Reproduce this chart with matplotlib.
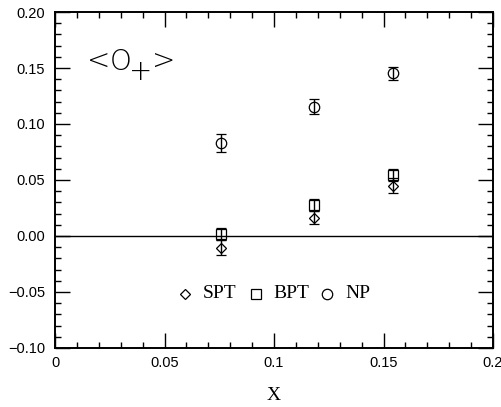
import numpy as np
import matplotlib.pyplot as plt
from matplotlib.ticker import MultipleLocator

# data
x_vals = [0.0758, 0.1183, 0.1545]

spt = [-0.0104, 0.0163, 0.0450]
spt_err = [0.0065, 0.0060, 0.0065]

bpt = [0.0020, 0.0277, 0.0545]
bpt_err = [0.0055, 0.0050, 0.0050]

np_vals = [0.0828, 0.1155, 0.1453]
np_err = [0.0080, 0.0070, 0.0060]

xticks = [0, 0.05, 0.1, 0.15, 0.2]
xtick_labels = ['0', '0.05', '0.1', '0.15', '0.2']
yticks = [-0.10, -0.05, 0.00, 0.05, 0.10, 0.15, 0.20]
ytick_labels = ['\u22120.10', '\u22120.05', '0.00', '0.05', '0.10', '0.15', '0.20']

plt.rcParams['font.family'] = 'Liberation Sans'

W, H = 502, 407
fig = plt.figure(figsize=(W / 100, H / 100), dpi=100)
ax = fig.add_axes([0.1096, 0.145, 0.8725, 0.8255])

ax.axhline(0, color='k', lw=1.0)

style = dict(ls='none', color='k', mfc='none', mec='k', ecolor='k',
             elinewidth=1.0, capsize=3.5, capthick=1.0, mew=0.9)
ax.errorbar(x_vals, spt, yerr=spt_err, marker='D', ms=5.5, **style)
ax.errorbar(x_vals, bpt, yerr=bpt_err, marker='s', ms=7, **style)
ax.errorbar(x_vals, np_vals, yerr=np_err, marker='o', ms=7.5, **style)

ax.set_xlim(0, 0.2)
ax.set_ylim(-0.1, 0.2)
ax.set_xticks(xticks)
ax.set_xticklabels(xtick_labels)
ax.set_yticks(yticks)
ax.set_yticklabels(ytick_labels)
ax.xaxis.set_minor_locator(MultipleLocator(0.01))
ax.yaxis.set_minor_locator(MultipleLocator(0.01))
ax.tick_params(which='both', direction='in', top=True, right=True,
               labelsize=10.5, width=1.0)
ax.tick_params(which='major', length=10.5)
ax.tick_params(which='minor', length=4.3)
ax.tick_params(axis='x', which='major', pad=6)
ax.tick_params(axis='y', which='major', pad=7)
for s in ax.spines.values():
    s.set_linewidth(1.4)

ax.set_xlabel('X', family='Liberation Serif', fontsize=14, labelpad=12)

# <O+> label, placed glyph by glyph (pixel positions from the top-left)
def fig_text(px, py, s, size):
    fig.text(px / W, 1 - py / H, s, fontsize=size, ha='center', va='center',
             family='DejaVu Sans', fontweight='light')

fig_text(99, 62, '<', 20)
fig_text(121, 62, 'O', 20)
fig_text(141, 72, '+', 20)
fig_text(164, 62, '>', 20)

# legend drawn as a row of markers and words
leg_y = -0.0515
ax.plot([0.0595], [leg_y], marker='D', ms=5, mfc='none', mec='k', mew=0.9)
ax.text(0.0675, leg_y, 'SPT', family='Liberation Serif', fontsize=14, va='center')
ax.plot([0.0919], [leg_y], marker='s', ms=7, mfc='none', mec='k', mew=0.9)
ax.text(0.0995, leg_y, 'BPT', family='Liberation Serif', fontsize=14, va='center')
ax.plot([0.1243], [leg_y], marker='o', ms=7.5, mfc='none', mec='k', mew=0.9)
ax.text(0.1325, leg_y, 'NP', family='Liberation Serif', fontsize=14, va='center')

fig.savefig('out.png', dpi=100)
